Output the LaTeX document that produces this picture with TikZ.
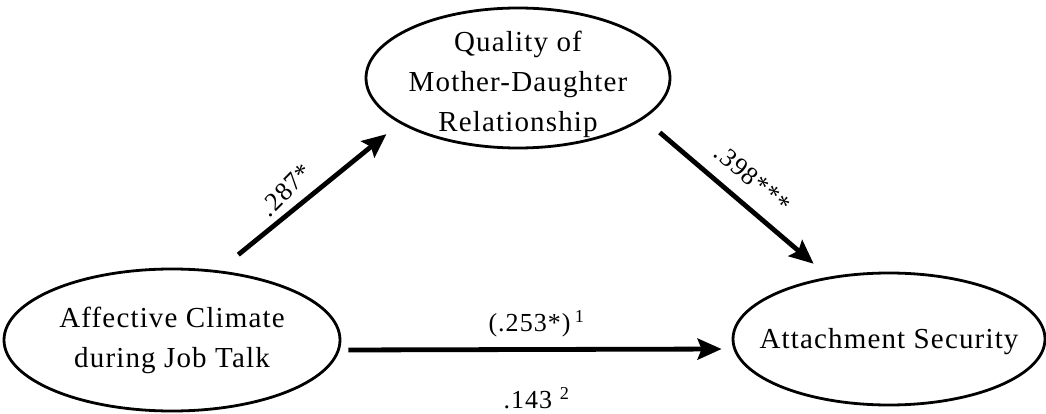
\documentclass[tikz,border=0pt]{standalone}
\usepackage{fontspec}
\setmainfont{Liberation Serif}[LetterSpace=4]
\usetikzlibrary{arrows.meta,shapes.geometric}
\newcommand{\bigtext}{\fontsize{29}{40}\selectfont}
\tikzstyle{construct} = [ellipse, draw, line width=2.8pt, inner sep=0pt]
\tikzstyle{effect} = [line width=4.8pt, -{Stealth[length=24pt,width=21pt,inset=4pt]}]
\tikzstyle{coef} = [font=\fontsize{26}{30}\selectfont, inner sep=3pt]

\begin{document}
\begin{tikzpicture}[x=1pt, y=-1pt]
\useasboundingbox (0,0) rectangle (1046,414);
\node (quality) [construct, minimum width=304pt, minimum height=140pt, label={[yshift=-6pt, align=center, font=\bigtext]center:Quality of\\Mother-Daughter\\Relationship}] at (518,78) {};
\node (affect) [construct, minimum width=336pt, minimum height=142pt, label={[align=center, font=\bigtext]center:Affective Climate\\during Job Talk}] at (172,340) {};
\node (attach) [construct, minimum width=312pt, minimum height=132pt, label={[yshift=-3pt, align=center, font=\bigtext]center:Attachment Security}] at (889,339) {};
\draw [effect, shorten <=25pt, shorten >=17pt] (affect.56) -- node[coef, sloped, rotate=6, above=6pt, pos=0.45] {.287*} (quality.201);
\draw [effect, shorten <=21pt, shorten >=20pt] (quality.342) -- node[coef, sloped, above=11pt, pos=0.5] {.398***} (attach.134);
\draw [effect, shorten <=7pt, shorten >=10pt] ([yshift=-10pt]affect.east) -- node[coef, above=7pt] {(.253*)\,\textsuperscript{1}} node[coef, below=33pt] {.143~\textsuperscript{2}} ([yshift=-10pt]attach.west);
\end{tikzpicture}
\end{document}
